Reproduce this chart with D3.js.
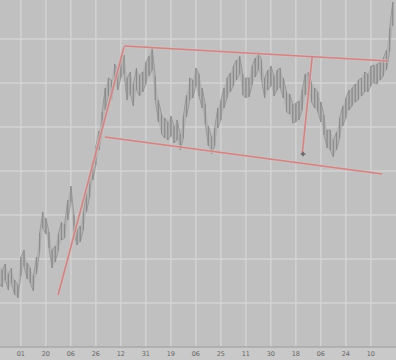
<!DOCTYPE html>
<html>
<head>
<meta charset="utf-8">
<script src="https://cdn.jsdelivr.net/npm/d3@7"></script>
<style>
  body { margin: 0; background: #c0c0c0; }
  svg { display: block; }
</style>
</head>
<body>
<script>
// bar highs / lows (price), one bar per trading day
var highs = [18.1,17.7,18.3,17.3,17.9,16.7,16.2,19.0,19.7,18.4,17.9,17.1,19.0,21.4,23.5,22.9,21.5,19.7,20.1,21.3,
  22.5,22.3,24.7,26.1,23.2,21.7,22.1,23.5,25.4,26.7,28.6,30.1,31.6,33.5,35.9,36.9,36.7,38.3,37.7,38.9,
  39.2,36.9,37.5,36.3,37.9,37.2,37.5,38.5,39.1,40.0,37.1,34.7,33.3,32.9,32.5,33.1,32.1,32.7,31.3,33.1,
  35.2,36.9,36.7,37.9,37.3,35.9,34.3,32.1,31.0,31.9,33.9,34.7,35.9,36.9,37.4,38.1,38.7,39.1,37.3,36.9,
  36.9,38.1,38.9,39.5,38.7,36.9,37.7,38.1,37.1,37.7,37.9,36.9,35.5,35.3,34.3,34.4,34.6,35.7,37.3,37.5,
  36.5,35.9,35.5,34.5,33.2,31.7,31.7,30.7,31.5,32.9,34.1,34.9,35.7,35.9,36.3,36.7,36.9,37.5,37.3,38.1,
  38.2,38.3,38.5,38.9,39.7,41.9,44.5];
var lows = [16.3,16.0,16.7,15.7,16.4,15.2,14.9,17.1,18.1,16.8,16.4,15.6,17.3,19.5,21.9,21.3,19.9,17.9,18.5,19.7,
  20.7,20.9,22.7,24.5,21.3,20.2,20.5,21.7,23.5,25.0,26.7,28.2,29.7,31.5,33.7,35.1,34.7,36.3,35.7,36.9,
  37.3,34.7,35.3,34.1,35.7,35.1,35.5,36.3,37.1,37.7,34.7,32.5,31.3,30.9,30.7,31.1,30.4,30.7,29.7,30.9,
  33.0,34.7,34.9,36.1,35.1,33.9,32.3,30.1,29.3,30.1,31.9,32.7,33.9,34.9,35.5,36.1,36.7,37.3,35.2,34.9,
  35.0,36.2,37.0,37.7,36.7,34.9,35.7,36.1,35.1,35.7,35.9,34.9,33.5,33.3,32.4,32.5,32.7,33.7,35.2,35.5,
  34.5,33.9,33.5,32.5,31.2,29.9,29.7,29.0,29.7,30.9,32.1,32.9,33.7,34.1,34.5,34.7,35.1,35.5,35.5,36.1,
  36.4,36.3,36.7,37.1,37.7,39.5,42.1];

// tick labels (day of month) and the bar they sit under
var tickLabels = ["01","20","06","26","12","31","19","06","25","11","30","18","06","24","10"];
var tickBars = [7,15,23,31,39,47,55,63,71,79,87,95,103,111,119];
var gridPrices = [14.4,18.8,23.2,27.6,32.0,36.4,40.8];

// drawn trend lines: [bar, price] -> [bar, price]
var trendLines = [
  [[18.9, 15.2], [40.0, 40.0]],
  [[40.0, 40.1], [124.5, 38.6]],
  [[33.9, 31.0], [122.6, 27.3]],
  [[97.0, 29.2], [100.2, 39.0]]
];

var width = 396, height = 360, plotBottom = 347;

var svg = d3.select("body").append("svg")
    .attr("width", width)
    .attr("height", height);

var x = d3.scaleLinear().domain([0, 126]).range([-1, 392.75]);
var y = d3.scaleLinear().domain([10, 44.7]).range([plotBottom, 0]);

svg.append("rect").attr("width", width).attr("height", plotBottom).attr("fill", "#c0c0c0");

// grid
svg.append("g").selectAll("line").data(tickBars).enter().append("line")
    .attr("x1", function (d) { return x(d); }).attr("x2", function (d) { return x(d); })
    .attr("y1", 0).attr("y2", plotBottom)
    .attr("stroke", "#d3d3d3").attr("stroke-width", 1.5);
svg.append("g").selectAll("line").data(gridPrices).enter().append("line")
    .attr("x1", 0).attr("x2", width)
    .attr("y1", function (d) { return y(d); }).attr("y2", function (d) { return y(d); })
    .attr("stroke", "#d3d3d3").attr("stroke-width", 1.5);

// price bars
var bars = highs.map(function (h, i) { return { i: i, hi: h, lo: lows[i] }; });

svg.append("path").datum(bars)
    .attr("fill", "#a6a6a6").attr("opacity", 0.55)
    .attr("d", d3.area()
        .x(function (d) { return x(d.i); })
        .y0(function (d) { return y(d.lo); })
        .y1(function (d) { return y(d.hi); }));

// zig-zag between each bar's high and the next bar's low gives the jagged look
var zig = [];
bars.forEach(function (d, i) { zig.push([d.i, i % 2 ? d.lo : d.hi]); zig.push([d.i, i % 2 ? d.hi : d.lo]); });
svg.append("path").datum(zig)
    .attr("fill", "none").attr("stroke", "#929292").attr("stroke-width", 0.8)
    .attr("d", d3.line().x(function (d) { return x(d[0]); }).y(function (d) { return y(d[1]); }));

svg.append("g").selectAll("line").data(bars).enter().append("line")
    .attr("x1", function (d) { return x(d.i); }).attr("x2", function (d) { return x(d.i); })
    .attr("y1", function (d) { return y(d.hi); }).attr("y2", function (d) { return y(d.lo); })
    .attr("stroke", "#8c8c8c").attr("stroke-width", 1.1);

// trend lines
var tl = d3.line().x(function (d) { return x(d[0]); }).y(function (d) { return y(d[1]); });
svg.append("g").selectAll("path").data(trendLines).enter().append("path")
    .attr("d", tl).attr("fill", "none")
    .attr("stroke", "#dcbcbc").attr("stroke-width", 3.5).attr("opacity", 0.7);
svg.append("g").selectAll("path").data(trendLines).enter().append("path")
    .attr("d", tl).attr("fill", "none")
    .attr("stroke", "#c88888").attr("stroke-width", 1.6);

// little cursor mark at the foot of the last line
svg.append("path")
    .attr("d", d3.symbol().type(d3.symbolCross).size(12)())
    .attr("transform", "translate(" + x(97.3) + "," + y(29.3) + ")")
    .attr("fill", "#666");

// x axis band
svg.append("rect").attr("y", plotBottom).attr("width", width).attr("height", height - plotBottom)
    .attr("fill", "#c9c9c9");
svg.append("line").attr("x1", 0).attr("x2", width).attr("y1", plotBottom).attr("y2", plotBottom)
    .attr("stroke", "#a9a9a9").attr("stroke-width", 1.5);

svg.append("g").selectAll("text").data(tickLabels).enter().append("text")
    .attr("x", function (d, i) { return x(tickBars[i]); })
    .attr("y", 355.5)
    .attr("text-anchor", "middle")
    .attr("font-family", "DejaVu Sans, sans-serif")
    .attr("font-size", 6.5)
    .attr("fill", "#666")
    .text(function (d) { return d; });
</script>
</body>
</html>
